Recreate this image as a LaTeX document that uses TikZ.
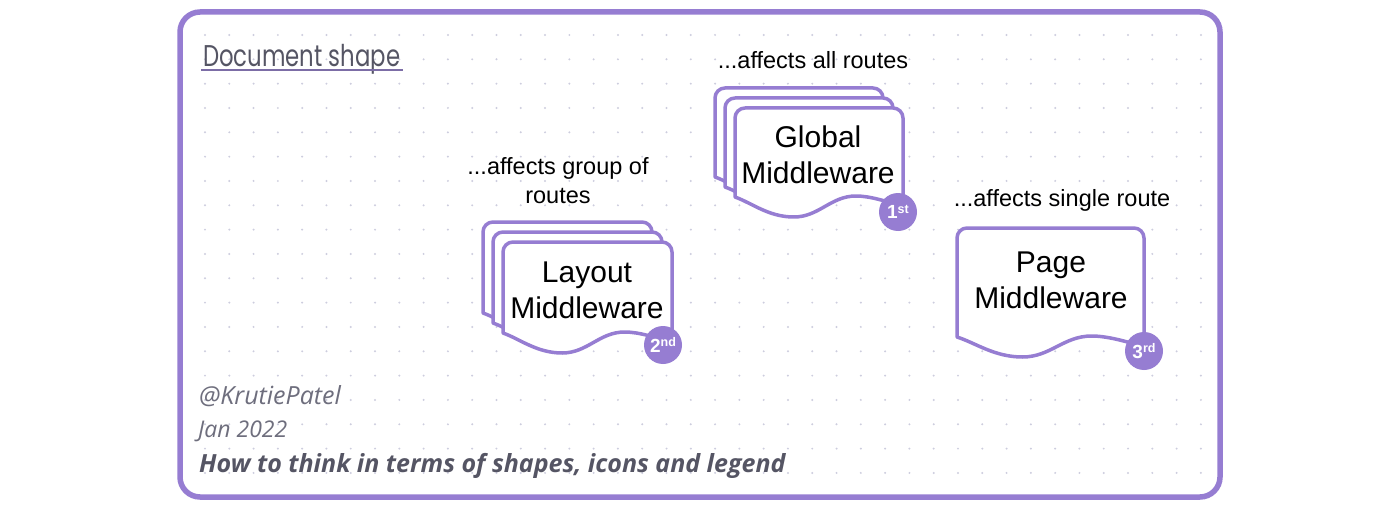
\documentclass[tikz,border=0pt]{standalone}
\usepackage{fontspec}
\setmainfont{Liberation Sans}
\newfontfamily\opensans{Open Sans}
\newfontfamily\titlefont{Poppins}
\definecolor{lav}{RGB}{150,125,210}
\definecolor{dotc}{RGB}{205,205,222}
\definecolor{ink}{RGB}{85,85,100}
\definecolor{subink}{RGB}{110,110,125}
\tikzset{
  card/.style={draw=lav, fill=white, line width=3.5pt, line join=round},
  frame/.style={draw=lav, line width=5.5pt, rounded corners=20pt},
  badge/.style={circle, fill=lav, minimum size=38pt, inner sep=0pt, text=white, font=\bfseries\fontsize{19}{19}\selectfont},
  ann/.style={font=\fontsize{23.5}{29}\selectfont, text=black, align=center, inner sep=0pt},
  lbl/.style={font=\fontsize{30}{36}\selectfont, text=black, align=center, inner sep=0pt},
  foot/.style={anchor=west, inner sep=0pt, font=\opensans\itshape\fontsize{25}{25}\selectfont, text=subink},
}
\newcommand\docshape[4]{%
  \pgfmathsetmacro\xa{#1}\pgfmathsetmacro\ya{#2}%
  \pgfmathsetmacro\xb{#1+#3}\pgfmathsetmacro\yb{#2+#4}%
  \pgfmathsetmacro\ww{#3}%
  \draw[card] (\xa,\yb) -- (\xa,\ya+10)
    .. controls (\xa,\ya+4.5) and (\xa+4.5,\ya) .. (\xa+10,\ya)
    -- (\xb-10,\ya)
    .. controls (\xb-4.5,\ya) and (\xb,\ya+4.5) .. (\xb,\ya+10)
    -- (\xb,\yb+10)
    .. controls (\xb-0.1*\ww,\yb+4) and (\xa+0.8*\ww,\yb-1) .. (\xa+0.72*\ww,\yb-1)
    .. controls (\xa+0.57*\ww,\yb-1) and (\xa+0.5*\ww,\yb+20) .. (\xa+0.35*\ww,\yb+20)
    .. controls (\xa+0.2*\ww,\yb+20) and (\xa+0.1*\ww,\yb+6) .. (\xa,\yb)
    -- cycle;
}
\newcommand\ordn[2]{#1\raisebox{5.5pt}{\fontsize{12.5}{12.5}\selectfont #2}}
\begin{document}
\begin{tikzpicture}[x=1pt,y=-1pt]
\fill[white] (0,0) rectangle (1400,508);
\useasboundingbox (0,0) rectangle (1400,508);
% dot grid
\foreach \i in {0,...,41}{
  \foreach \j in {0,...,18}{
    \fill[dotc] (205+\i*24.29,35+\j*24.33) circle[radius=1.1];
  }
}
% frame
\draw[frame] (180,12) rectangle (1220,497);
% title
\node[anchor=base west, font=\titlefont\fontsize{30}{30}\selectfont, text=ink, inner sep=0pt] (title) at (203,67) {\scalebox{0.76}[1]{Document shape}};
\draw[lav!60!ink, line width=1.5pt] ([yshift=-3pt,xshift=-2pt]title.base west) -- ([yshift=-3pt,xshift=2pt]title.base east);
% Global stack
\docshape{715}{88}{168}{89}
\docshape{725}{98}{168}{89}
\docshape{735}{108}{168}{89}
% Layout stack
\docshape{483}{222}{169}{91}
\docshape{493}{232}{169}{91}
\docshape{503}{242}{169}{91}
% Page
\docshape{957}{228}{187}{109}
% labels
\node[lbl] (gl) at (818,155) {Global\\Middleware};
\node[lbl] (ll) at (587,290) {Layout\\Middleware};
\node[lbl] (pl) at (1051,280) {Page\\Middleware};
\node[ann] (aAll) at (813,60) {...affects all routes};
\node[ann] (aGroup) at (558,181) {...affects group of\\routes};
\node[ann] (aSingle) at (1062,200) {...affects single route};
% badges
\node[badge] (b1) at (898,212) {\ordn{1}{st}};
\node[badge] (b2) at (663,345) {\ordn{2}{nd}};
\node[badge] (b3) at (1144,351) {\ordn{3}{rd}};
% footer
\node[foot] (auth) at (199,396) {@KrutiePatel};
\node[foot, font=\opensans\itshape\fontsize{23}{23}\selectfont] (date) at (198,431) {Jan 2022};
\node[foot, font=\opensans\bfseries\itshape\fontsize{25}{25}\selectfont, text=ink] (sub) at (199,466) {How to think in terms of shapes, icons and legend};
\end{tikzpicture}
\end{document}
